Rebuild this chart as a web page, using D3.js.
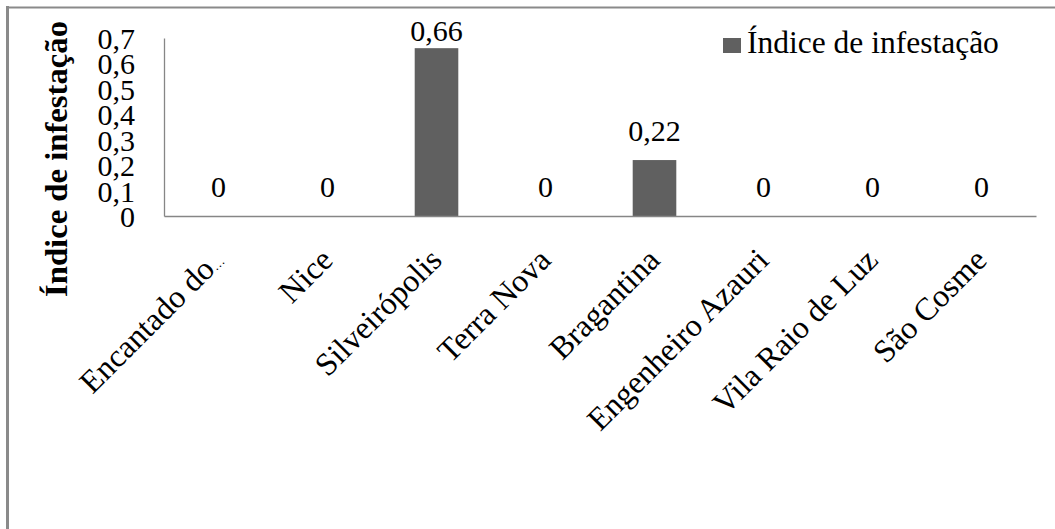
<!DOCTYPE html>
<html>
<head>
<meta charset="utf-8">
<script src="https://cdn.jsdelivr.net/npm/d3@7"></script>
<style>
  html, body { margin: 0; padding: 0; background: #fff; }
</style>
</head>
<body>
<svg id="chart" width="1055" height="529"></svg>
<script>
// Infestation index per locality
const categories = ["Encantado do…", "Nice", "Silveirópolis", "Terra Nova", "Bragantina", "Engenheiro Azauri", "Vila Raio de Luz", "São Cosme"];
const values = [0, 0, 0.66, 0, 0.22, 0, 0, 0];
const yTicks = [0, 0.1, 0.2, 0.3, 0.4, 0.5, 0.6, 0.7];
const seriesName = "Índice de infestação";
const axisTitle = "Índice de infestação";

const FONT = "'Liberation Serif', 'Times New Roman', serif";
const svg = d3.select("#chart");
const fmt = v => String(v).replace(".", ",");

const plot = { left: 164, right: 1036, top: 38, bottom: 216 };
const barColor = "#606060";
const axisColor = "#868686";

// Outer frame (left and top edges)
svg.append("line").attr("x1", 7.5).attr("x2", 7.5).attr("y1", 6).attr("y2", 529)
  .attr("stroke", "#8a8a8a").attr("stroke-width", 3);
svg.append("line").attr("x1", 6).attr("x2", 1055).attr("y1", 7.5).attr("y2", 7.5)
  .attr("stroke", "#8a8a8a").attr("stroke-width", 2);

const x = d3.scaleBand().domain(categories).range([plot.left, plot.right])
  .paddingInner(0.6).paddingOuter(0.3);
const y = d3.scaleLinear().domain([0, 0.7]).range([plot.bottom, plot.top]);

// Bars
svg.append("g").selectAll("rect").data(values).join("rect")
  .attr("x", (d, i) => x(categories[i]))
  .attr("width", x.bandwidth())
  .attr("y", d => y(d))
  .attr("height", d => y(0) - y(d))
  .attr("fill", barColor);

// Y axis
const yAxis = svg.append("g").attr("transform", `translate(${plot.left},0)`)
  .call(d3.axisLeft(y).tickValues(yTicks).tickFormat(fmt).tickSize(0).tickSizeOuter(0).tickPadding(29));
yAxis.select(".domain").attr("stroke", axisColor).attr("stroke-width", 1.3);
yAxis.selectAll("text")
  .style("font-family", FONT).style("font-size", "30px").style("fill", "#000")
  .attr("dy", "0.35em");

// X axis with slanted category names
const xAxis = svg.append("g").attr("transform", `translate(0,${plot.bottom})`)
  .call(d3.axisBottom(x).tickSize(0).tickSizeOuter(0).tickPadding(0));
xAxis.select(".domain").attr("stroke", axisColor).attr("stroke-width", 1.3);
xAxis.selectAll("text")
  .style("font-family", FONT).style("font-size", "32px").style("fill", "#000")
  .attr("text-anchor", "end")
  .attr("dy", 0)
  .attr("y", 0)
  .attr("transform", "translate(7,46) rotate(-45)");

// Truncated names: draw the trailing ellipsis compact
xAxis.selectAll("text").filter(d => d.endsWith("…")).each(function(d) {
  const t = d3.select(this).text(d.slice(0, -1));
  t.append("tspan").style("font-size", "13px").text("…");
});

// Value labels
svg.append("g").selectAll("text").data(values).join("text")
  .attr("x", (d, i) => x(categories[i]) + x.bandwidth() / 2)
  .attr("y", d => Math.max(y(d) - 19, 41))
  .attr("text-anchor", "middle")
  .style("font-family", FONT).style("font-size", "30px")
  .text(fmt);

// Axis title
svg.append("text")
  .attr("transform", "translate(67,159) rotate(-90)")
  .attr("text-anchor", "middle")
  .attr("textLength", 276)
  .attr("lengthAdjust", "spacingAndGlyphs")
  .style("font-family", FONT).style("font-size", "31px").style("font-weight", "bold")
  .text(axisTitle);

// Legend
const legend = svg.append("g");
legend.append("rect").attr("x", 723).attr("y", 38).attr("width", 18).attr("height", 15).attr("fill", barColor);
legend.append("text").attr("x", 747).attr("y", 53)
  .style("font-family", FONT).style("font-size", "31.5px")
  .text(seriesName);
</script>
</body>
</html>
